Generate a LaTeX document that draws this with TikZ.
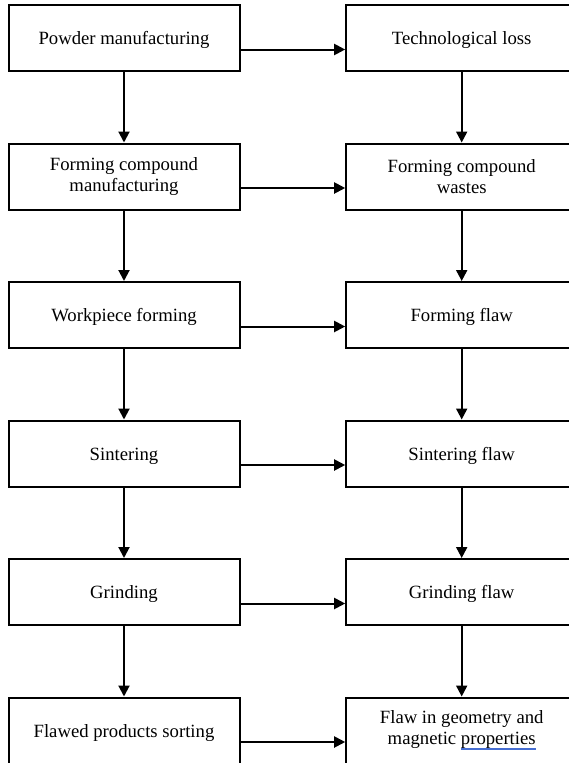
\documentclass[tikz,border=0pt]{standalone}
\usepackage{fontspec}
\setmainfont{Liberation Serif}
\usetikzlibrary{arrows.meta}
\definecolor{spellblue}{RGB}{70,110,210}
\newcommand{\spellline}[1]{\setbox0=\hbox{#1}\rlap{\color{spellblue}\rule[-3.2pt]{\wd0}{0.6pt}\hskip-\wd0\rule[-5pt]{\wd0}{0.6pt}}\box0}
\tikzset{
  stage/.style={draw,line width=2pt,minimum width=231pt,minimum height=66pt,align=center,inner sep=0pt,
    execute at begin node={\rule{0pt}{17.8pt}}},
  flow/.style={line width=2pt,-{Triangle[length=11pt,width=11pt]}}
}
\begin{document}
\begin{tikzpicture}[x=1pt,y=-1pt,every node/.style={font=\fontsize{18.7}{21}\selectfont}]
\useasboundingbox (0,0) rectangle (569,763);
\clip (0,0) rectangle (569,763);
% process steps (left) and their losses (right)
\foreach \t [count=\i] in {Powder manufacturing,{Forming compound\\manufacturing},Workpiece forming,Sintering,Grinding,Flawed products sorting}
  {\node[stage] (p\i) at (124,38+138.5*\i-138.5) {\t};}
\foreach \t [count=\i] in {Technological loss,{Forming compound\\wastes},Forming flaw,Sintering flaw,Grinding flaw,{Flaw in geometry and\\magnetic \spellline{properties}}}
  {\node[stage] (f\i) at (461.7,38+138.5*\i-138.5) {\t};}
\foreach \i [evaluate=\i as \j using int(\i+1)] in {1,...,5} {\draw[flow] (p\i) -- (p\j); \draw[flow] (f\i) -- (f\j);}
\foreach \i in {1,...,6} {\draw[flow] ([yshift=-11.5pt]p\i.east) -- ([yshift=-11.5pt]p\i.east -| f\i.west);}
\end{tikzpicture}
\end{document}
